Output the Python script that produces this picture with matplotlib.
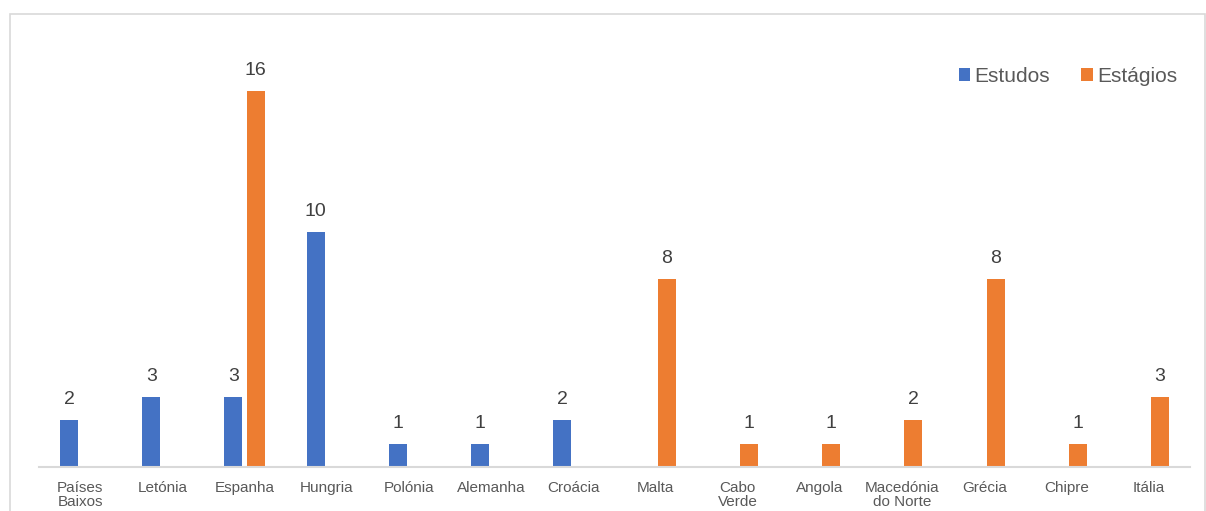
import numpy as np
import matplotlib.pyplot as plt
from matplotlib.patches import Rectangle

plt.rcParams['font.family'] = ['Liberation Sans', 'DejaVu Sans']

paises = ['Países\nBaixos', 'Letónia', 'Espanha', 'Hungria', 'Polónia', 'Alemanha',
          'Croácia', 'Malta', 'Cabo\nVerde', 'Angola', 'Macedónia\ndo Norte',
          'Grécia', 'Chipre', 'Itália']
estudos = [2, 3, 3, 10, 1, 1, 2, 0, 0, 0, 0, 0, 0, 0]
estagios = [0, 0, 16, 0, 0, 0, 0, 8, 1, 1, 2, 8, 1, 3]

azul = '#4472C4'
laranja = '#ED7D31'

fig = plt.figure(figsize=(12.06, 5.11), dpi=100)
ax = fig.add_axes([39 / 1206, 1 - 467 / 511, 1151 / 1206, 18 * 23.5 / 511])

x = np.arange(len(paises))
w = 0.22
off = 0.135

b1 = ax.bar(x - off, estudos, w, color=azul, label='Estudos')
b2 = ax.bar(x + off, estagios, w, color=laranja, label='Estágios')

# rótulos só para valores diferentes de zero
for bars, vals in ((b1, estudos), (b2, estagios)):
    for b, v in zip(bars, vals):
        if v == 0:
            continue
        ax.text(b.get_x() + b.get_width() / 2, v + 0.5, str(v), ha='center',
                va='bottom', fontsize=14, color='#404040')

ax.set_xlim(-0.5, len(paises) - 0.5)
ax.set_ylim(0, 18)
ax.set_xticks(x)
ax.set_xticklabels(paises, fontsize=11, color='#595959', linespacing=1.0)
ax.tick_params(axis='x', length=0, pad=10)
ax.set_yticks([])
for s in ['top', 'right', 'left']:
    ax.spines[s].set_visible(False)
ax.spines['bottom'].set_color('#D9D9D9')
ax.spines['bottom'].set_linewidth(1.5)

leg = ax.legend(loc='upper right', bbox_to_anchor=(1.005, 0.99), ncol=2, frameon=False,
                fontsize=15, handlelength=0.55, handleheight=0.55, handletextpad=0.2,
                columnspacing=1.5, labelcolor='#595959')

fig.patches.append(Rectangle((10 / 1206, -0.05), 1195 / 1206, 1.05 - 14 / 511,
                             transform=fig.transFigure, fill=False,
                             edgecolor='#D9D9D9', linewidth=1.2))

fig.savefig('out.png', dpi=100)
